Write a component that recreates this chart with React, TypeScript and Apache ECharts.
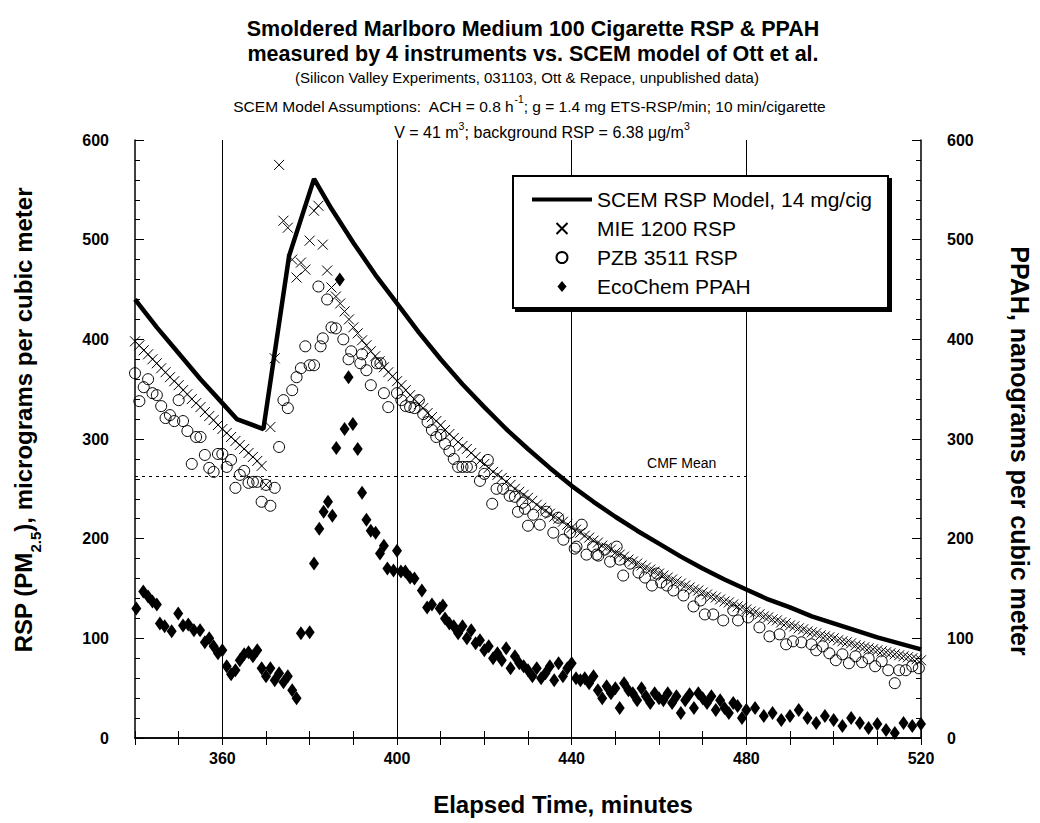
import React, { useEffect, useRef } from "react";
import * as echarts from "echarts";

const FONT = "'Liberation Sans', Arial, sans-serif";

// Axis ticks / labels
const xLabelTicks = [360, 400, 440, 480, 520];
const gridLineTimes = [360, 400, 440, 480];
const cmfMean = 263;
const cmfEnd = 480;

// SCEM RSP model (minutes, ug/m3)
const scemModel: [number, number][] = [
  [340, 440], [345, 412], [350, 386], [355, 360], [360, 336], [363.3, 320], [369.4, 310],
  [375.3, 484], [381, 561], [385, 531], [390, 497], [395, 465], [400, 436], [405, 407],
  [410, 380], [415, 355], [420, 332], [425, 310], [430, 290], [435, 271], [440, 253],
  [445, 237], [450, 222], [455, 208], [460, 195], [465, 182], [470, 170], [475, 159],
  [480, 149], [485, 139], [490, 131], [495, 122], [500, 115], [505, 108], [510, 101],
  [515, 95], [520, 89],
];

// MIE 1200 RSP, one reading per minute from 340
const mieStart = 340;
const mieValues = [
  398, 394, 389, 385, 380, 376, 371, 367, 362, 358, 354, 349, 345, 340, 336, 332, 327, 323, 319, 314,
  310, 306, 302, 298, 294, 290, 286, 282, 278, 273,
  254, 312, 381, 575, 519, 512, 480, 462, 477, 470, 499, 529, 534, 495, 469, 452, 443, 436, 428, 420,
  412, 406, 399, 394, 388, 383, 378, 372, 367, 363,
  358, 354, 349, 344, 340, 335, 331, 326, 322, 318, 314, 309, 305, 301, 297, 293, 290, 286, 282, 278,
  275, 271, 267, 264, 261, 257, 254, 250, 247, 244, 241, 238, 234, 231, 228, 225, 222, 220, 217, 214,
  211, 209, 206, 203, 201, 198, 196, 193, 191, 189, 186, 184, 182, 179, 177, 175, 173, 171, 169, 167,
  165, 163, 161, 159, 157, 155, 153, 151, 149, 148, 146, 144, 142, 141, 139, 137, 136, 134, 132, 131,
  129, 127, 126, 124, 122, 121, 119, 118, 116, 115, 113, 112, 110, 109, 107, 106, 105, 103, 102, 101,
  100, 98, 97, 96, 95, 93, 92, 91, 90, 89, 88, 87, 86, 85, 84, 83, 82, 81, 80, 79, 78,
];

// PZB 3511 RSP (minutes, ug/m3)
const pzbRsp: [number, number][] = [
  [340, 366], [341, 338], [342, 352], [343, 360], [344, 346], [345, 344], [346, 333], [347, 321],
  [348, 324], [349, 318], [350, 339], [351, 318], [352, 308], [353, 275], [354, 302], [355, 302],
  [356, 284], [357, 271], [358, 267], [359, 285], [360, 285], [361, 272], [362, 279], [363, 251],
  [364, 264], [365, 268], [366, 256], [367, 257], [368, 257], [369, 237], [370, 254], [371, 233],
  [372, 251], [373, 292], [374, 339], [375, 331], [376, 349], [377, 362], [378, 371], [379, 393],
  [380, 374], [381, 374], [382, 453], [382.5, 393], [383, 401], [384, 440], [385, 412], [386, 411],
  [387.7, 400], [388.9, 380], [389.5, 388], [391.6, 376], [392, 385], [393, 369], [394, 354],
  [395.4, 376], [396.2, 376], [397, 346], [398, 332], [400, 346], [401, 339], [402, 333], [403, 332],
  [404, 331], [405, 339], [406, 325], [407, 317], [408, 309], [409, 302], [410, 304], [411, 295],
  [412, 288], [413, 280], [414, 272], [415, 272], [416, 272], [417, 272], [419, 258], [420, 265],
  [420.8, 279], [421.8, 235], [422.8, 250], [424.3, 250], [425.8, 243], [427, 242], [427.7, 227],
  [428.7, 236], [429.3, 230], [430, 213], [431.2, 224], [432.7, 214], [434.2, 227], [435.8, 206],
  [436.9, 221], [438.1, 199], [439.6, 206], [440.7, 190], [441.1, 192], [442.3, 214], [443.4, 184],
  [444.9, 192], [445.7, 184], [446.1, 183], [447.6, 189], [448.8, 177], [450.3, 192], [451, 179],
  [451.8, 163], [453.4, 175], [455.3, 166], [456.8, 161], [458.4, 153], [459.5, 165], [460.5, 156],
  [461.8, 153], [463.3, 148], [465.6, 143], [467.9, 132], [469.5, 138], [470.5, 124], [472.4, 124],
  [474.7, 118], [477, 128], [478.1, 118], [480.4, 121], [483, 111], [485.3, 102], [487.6, 104],
  [489.1, 94], [490.7, 97], [492.6, 96], [494.9, 94], [496, 88], [497.5, 92], [499, 85],
  [500.5, 78], [502, 84], [503.5, 75], [505, 82], [506.5, 76], [508, 80], [509.5, 72], [511, 77],
  [512.5, 68], [514, 55], [515, 68], [516.5, 68], [518, 72], [519.5, 70],
];

// EcoChem PPAH (minutes, ng/m3)
const ecoChemPpah: [number, number][] = [
  [340.3, 130], [341.9, 147], [343, 142], [344, 137], [345, 134], [345.7, 115], [346.8, 112],
  [348.4, 107], [349.9, 125], [351, 113], [352.2, 114], [353.5, 108], [354.9, 108], [356, 96],
  [357, 100], [358, 92], [359, 85], [360, 88], [361, 72], [362, 64], [363, 68], [364, 78],
  [365, 84], [366, 86], [367, 82], [368, 88], [369, 70], [370, 62], [371, 70], [372, 58],
  [373, 65], [374, 56], [375, 62], [376, 48], [377, 40], [378, 105], [380, 106], [381, 175],
  [382.2, 210], [383.2, 227], [384.2, 237], [385.2, 223], [386.1, 291], [386.9, 460], [388, 310],
  [388.9, 362], [389.9, 315], [391, 290], [392, 246], [393, 219], [394, 208], [395.1, 206],
  [396.1, 185], [397, 193], [397.8, 170], [399.2, 168], [400, 188], [400.9, 167], [401.9, 167],
  [403, 161], [404, 160], [405.7, 148], [406.9, 131], [408, 134], [409.8, 130], [410.5, 133],
  [411, 120], [412, 115], [413, 112], [414, 105], [415, 112], [416, 100], [417, 108], [418, 95],
  [419, 98], [420, 88], [421, 92], [422, 80], [423, 85], [424, 78], [425, 90], [426, 70],
  [427, 82], [428, 75], [429, 72], [430, 68], [431, 62], [432, 70], [433, 60], [434, 65],
  [435, 72], [436, 58], [437, 75], [438, 62], [439, 70], [440, 75], [441, 60], [442, 58],
  [443, 60], [444, 55], [445, 62], [446, 48], [447, 40], [448, 52], [449, 45], [450, 50],
  [451, 30], [452, 55], [453, 48], [454, 45], [455, 38], [456, 50], [457, 42], [458, 35],
  [459, 45], [460, 40], [461, 38], [462, 45], [463, 35], [464, 42], [465, 25], [466, 38],
  [467, 44], [468, 30], [469, 45], [470, 40], [471, 35], [472, 42], [473, 28], [474, 38],
  [475, 30], [476, 25], [477, 35], [478, 32], [479, 20], [480, 28], [482, 30], [484, 22],
  [486, 25], [488, 18], [490, 22], [492, 28], [494, 20], [496, 15], [498, 22], [500, 18],
  [502, 12], [504, 20], [506, 15], [508, 10], [510, 14], [512, 8], [514, 5], [516, 15],
  [518, 12], [520, 14],
];

const crossPath = "path://M0,0L10,10M10,0L0,10";
const diamondPath = "path://M5,0L10,6L5,12L0,6Z";
// legend icon for the model line: a thick bar inside a 60x11 box
const lineIcon =
  "path://M0,0L0.01,0L0,0.01Z M0,3.4L60,3.4L60,7.6L0,7.6Z M60,11L59.99,11L60,10.99Z";

export default function App() {
  const ref = useRef<HTMLDivElement>(null);

  useEffect(() => {
    document.body.style.margin = "0";
    const chart = echarts.init(ref.current!, undefined, { renderer: "svg" });

    const mieData = mieValues.map((v, i) => [mieStart + i, v]);

    const axisLabelStyle = {
      color: "#000",
      fontFamily: FONT,
      fontWeight: "bold" as const,
      fontSize: 16,
    };
    const richSmall = (size: number) => ({
      n: { fontFamily: FONT, fontWeight: "normal", fontSize: size, color: "#000", lineHeight: 20, verticalAlign: "bottom" },
      s: { fontFamily: FONT, fontWeight: "normal", fontSize: size * 0.66, color: "#000", lineHeight: 20, verticalAlign: "top" },
    });

    const option: any = {
      animation: false,
      backgroundColor: "#fff",
      title: [
        {
          text: "Smoldered Marlboro Medium 100 Cigarette RSP & PPAH\nmeasured by 4 instruments vs. SCEM model of Ott et al.",
          left: 528,
          top: 11,
          textAlign: "center",
          textStyle: { fontFamily: FONT, fontWeight: "bold", fontSize: 21.5, lineHeight: 25, color: "#000" },
        },
        {
          text: "(Silicon Valley Experiments, 031103, Ott & Repace, unpublished data)",
          left: 522,
          top: 65,
          textAlign: "center",
          textStyle: { fontFamily: FONT, fontWeight: "normal", fontSize: 15, color: "#000" },
        },
        {
          text: "{n|SCEM Model Assumptions:  ACH = 0.8 h}{s|-1}{n|; g = 1.4 mg ETS-RSP/min; 10 min/cigarette}",
          left: 524,
          top: 89,
          textAlign: "center",
          textStyle: { fontWeight: "normal", rich: richSmall(15.5) },
        },
        {
          text: "{n|V = 41 m}{s|3}{n|; background RSP = 6.38 \u03bcg/m}{s|3}",
          left: 537,
          top: 115,
          textAlign: "center",
          textStyle: { fontWeight: "normal", rich: richSmall(16) },
        },
      ],
      legend: {
        orient: "vertical",
        left: 527,
        top: 184,
        itemWidth: 60,
        itemHeight: 11,
        itemGap: 8,
        z: 20,
        selectedMode: false,
        textStyle: { fontFamily: FONT, fontSize: 21, color: "#000" },
        data: [
          { name: "SCEM RSP Model, 14 mg/cig", icon: lineIcon },
          { name: "MIE 1200 RSP" },
          { name: "PZB 3511 RSP" },
          { name: "EcoChem PPAH" },
        ],
      },
      graphic: [
        {
          type: "rect",
          left: 515,
          top: 178,
          z: 10,
          shape: { width: 377, height: 134 },
          style: { fill: "#000" },
        },
        {
          type: "rect",
          left: 512,
          top: 175,
          z: 11,
          shape: { width: 375, height: 132 },
          style: { fill: "#fff", stroke: "#000", lineWidth: 2 },
        },
      ],
      grid: { left: 135, right: 118, top: 140, bottom: 85, containLabel: false },
      xAxis: [
        {
          type: "value",
          min: 340,
          max: 520,
          interval: 10,
          position: "bottom",
          axisLine: { show: true, lineStyle: { color: "#000", width: 1.5 } },
          axisTick: { show: true, inside: false, length: 7, lineStyle: { color: "#000" } },
          axisLabel: {
            ...axisLabelStyle,
            margin: 12,
            formatter: (v: number) => (xLabelTicks.includes(v) ? String(v) : ""),
          },
          splitLine: { show: false },
          name: "Elapsed Time, minutes",
          nameLocation: "middle",
          nameGap: 54,
          nameTextStyle: {
            fontFamily: FONT,
            fontWeight: "bold",
            fontSize: 24,
            color: "#000",
            padding: [0, 0, 0, 70],
          },
        },
        {
          type: "value",
          min: 340,
          max: 520,
          interval: 10,
          position: "top",
          axisLine: { show: true, lineStyle: { color: "#000", width: 1.5 } },
          axisTick: { show: true, inside: false, length: 7, lineStyle: { color: "#000" } },
          axisLabel: { show: false },
          splitLine: { show: false },
        },
      ],
      yAxis: [
        {
          type: "value",
          min: 0,
          max: 600,
          interval: 100,
          position: "left",
          axisLine: { show: true, lineStyle: { color: "#000", width: 1.5 } },
          axisTick: { show: true, inside: true, length: 9, lineStyle: { color: "#000" } },
          minorTick: { show: true, splitNumber: 5, length: 5, lineStyle: { color: "#000" } },
          axisLabel: { ...axisLabelStyle, margin: 26 },
          splitLine: { show: false },
          name: "{a|RSP (PM}{b|2.5}{a|), micrograms per cubic meter}",
          nameLocation: "middle",
          nameGap: 92,
          nameRotate: 90,
          nameTextStyle: {
            padding: [0, 0, 0, 38],
            rich: {
              a: { fontFamily: FONT, fontWeight: "bold", fontSize: 24, color: "#000", lineHeight: 32, verticalAlign: "top" },
              b: { fontFamily: FONT, fontWeight: "bold", fontSize: 15, color: "#000", lineHeight: 32, verticalAlign: "bottom" },
            },
          },
        },
        {
          type: "value",
          min: 0,
          max: 600,
          interval: 100,
          position: "right",
          axisLine: { show: true, lineStyle: { color: "#000", width: 1.5 } },
          axisTick: { show: true, inside: true, length: 9, lineStyle: { color: "#000" } },
          minorTick: { show: true, splitNumber: 5, length: 5, lineStyle: { color: "#000" } },
          axisLabel: { ...axisLabelStyle, margin: 26 },
          splitLine: { show: false },
          name: "PPAH, nanograms per cubic meter",
          nameLocation: "middle",
          nameGap: 86,
          nameRotate: -90,
          nameTextStyle: {
            fontFamily: FONT,
            fontWeight: "bold",
            fontSize: 25,
            color: "#000",
            padding: [0, 0, 0, 24],
          },
        },
      ],
      series: [
        {
          name: "SCEM RSP Model, 14 mg/cig",
          type: "line",
          xAxisIndex: 0,
          yAxisIndex: 0,
          data: scemModel,
          symbol: "none",
          lineStyle: { color: "#000", width: 4.5 },
          itemStyle: { color: "#000" },
          z: 5,
          markLine: {
            silent: true,
            symbol: ["none", "none"],
            animation: false,
            data: [
              ...gridLineTimes.map((t) => ({
                xAxis: t,
                lineStyle: { color: "#000", width: 1, type: "solid" },
                label: { show: false },
              })),
              [
                {
                  coord: [340, cmfMean],
                  lineStyle: { color: "#000", width: 1, type: [3, 4] },
                  label: {
                    show: true,
                    formatter: "CMF Mean",
                    position: "insideEndTop",
                    distance: [30, 6],
                    fontFamily: FONT,
                    fontSize: 14,
                    color: "#000",
                  },
                },
                { coord: [cmfEnd, cmfMean] },
              ],
            ],
          },
        },
        {
          name: "MIE 1200 RSP",
          type: "scatter",
          xAxisIndex: 0,
          yAxisIndex: 0,
          data: mieData,
          symbol: crossPath,
          symbolKeepAspect: true,
          symbolSize: 10,
          itemStyle: { color: "none", borderColor: "#000", borderWidth: 1, opacity: 1 },
          z: 3,
        },
        {
          name: "PZB 3511 RSP",
          type: "scatter",
          xAxisIndex: 0,
          yAxisIndex: 0,
          data: pzbRsp,
          symbol: "circle",
          symbolKeepAspect: true,
          symbolSize: 11,
          itemStyle: { color: "rgba(255,255,255,0)", borderColor: "#000", borderWidth: 1, opacity: 1 },
          z: 3,
        },
        {
          name: "EcoChem PPAH",
          type: "scatter",
          xAxisIndex: 0,
          yAxisIndex: 1,
          data: ecoChemPpah,
          symbol: diamondPath,
          symbolKeepAspect: true,
          symbolSize: [12, 14],
          itemStyle: { color: "#000", opacity: 1 },
          z: 4,
        },
      ],
    };

    chart.setOption(option);
    return () => chart.dispose();
  }, []);

  return <div ref={ref} style={{ position: "fixed", left: 0, top: 0, width: 1040, height: 823 }} />;
}
